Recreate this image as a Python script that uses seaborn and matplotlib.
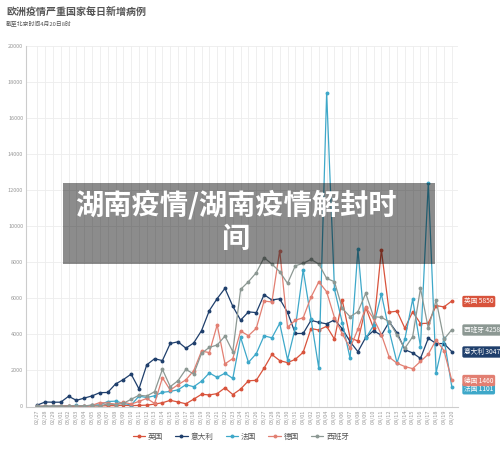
import matplotlib
matplotlib.use("Agg")
import matplotlib.pyplot as plt
import seaborn as sns
import pandas as pd
from matplotlib.patches import Rectangle
from matplotlib.lines import Line2D

sns.set_style("white")
plt.rcParams['font.family'] = ['Noto Sans CJK SC', 'DejaVu Sans']

dates = ["02/27", "02/28", "02/29",
         "03/01", "03/02", "03/03", "03/04", "03/05", "03/06", "03/07", "03/08", "03/09", "03/10",
         "03/11", "03/12", "03/13", "03/14", "03/15", "03/16", "03/17", "03/18", "03/19", "03/20",
         "03/21", "03/22", "03/23", "03/24", "03/25", "03/26", "03/27", "03/28", "03/29", "03/30", "03/31",
         "04/01", "04/02", "04/03", "04/04", "04/05", "04/06", "04/07", "04/08", "04/09", "04/10",
         "04/11", "04/12", "04/13", "04/14", "04/15", "04/16", "04/17", "04/18", "04/19", "04/20"]

uk = [0, 2, 5, 3, 13, 4, 11, 34, 29, 46, 46, 67, 48, 61, 74, 134, 208, 342, 251, 152,
      407, 676, 643, 714, 1035, 665, 967, 1427, 1452, 2129, 2885, 2546, 2433, 2619, 3009,
      4324, 4244, 4450, 3735, 5903, 3802, 3634, 5491, 4344, 8681, 5233, 5288, 4342, 5252,
      4603, 4617, 5599, 5525, 5850]
italy = [78, 250, 238, 240, 566, 342, 466, 587, 769, 778, 1247, 1492, 1797, 977, 2313, 2651,
         2547, 3497, 3590, 3233, 3526, 4207, 5322, 5986, 6557, 5560, 4789, 5249, 5210, 6203,
         5909, 5974, 5217, 4050, 4053, 4782, 4668, 4585, 4805, 4316, 3599, 3039, 3836, 4204,
         3951, 4694, 4092, 3153, 2972, 2667, 3786, 3493, 3491, 3047]
france = [4, 20, 19, 43, 30, 61, 13, 81, 92, 276, 296, 177, 83, 575, 497, 595, 785, 838, 924,
          1210, 1097, 1404, 1861, 1617, 1847, 1559, 3838, 2446, 2931, 3922, 3809, 4611, 2599,
          4376, 7578, 4861, 2116, 17400, 6500, 4650, 2673, 8718, 3782, 4500, 6240, 4204, 2429,
          3727, 5945, 3318, 12413, 1875, 3782, 1101]
germany = [10, 19, 2, 31, 51, 29, 37, 66, 220, 188, 129, 241, 136, 281, 451, 170, 1597, 910,
           1210, 1477, 1985, 3070, 2993, 4528, 2365, 2660, 4183, 3930, 4337, 5850, 5800, 8650,
           4400, 4790, 4923, 6064, 6922, 6365, 4933, 4031, 3251, 4289, 5500, 4885, 3990, 2737,
           2400, 2218, 2100, 2500, 2900, 3699, 3100, 1460]
spain = [2, 2, 17, 13, 39, 36, 45, 57, 37, 141, 100, 173, 400, 622, 582, 822, 2063, 1100, 1433,
         2063, 1800, 2949, 3282, 3411, 3910, 3041, 6499, 6924, 7423, 8255, 7903, 7478, 6831,
         7811, 7940, 8162, 7903, 7108, 6922, 5444, 4981, 5259, 6277, 4981, 4946, 4706, 3965,
         3226, 3873, 6555, 4335, 5906, 3727, 4258]

countries = ["英国", "意大利", "法国", "德国", "西班牙"]
series = [uk, italy, france, germany, spain]
colors = ["#d8533c", "#1f3f6c", "#3ea8c9", "#e27f72", "#8c9893"]
yticks = [0, 2000, 4000, 6000, 8000, 10000, 12000, 14000, 16000, 18000, 20000]

W, H = 500, 449
fig = plt.figure(figsize=(W / 100, H / 100), dpi=100)
L, R, T, B = 26, 458, 46, 406.5
ax = fig.add_axes([L / W, 1 - B / H, (R - L) / W, (B - T) / H])

x = list(range(len(dates)))
for name, vals, c in zip(countries, series, colors):
    df = pd.DataFrame({"x": x, "y": vals})
    sns.lineplot(data=df, x="x", y="y", ax=ax, color=c, linewidth=0.9, marker="o",
                 markersize=2.8, markeredgewidth=0, sort=False, legend=False)

ax.set_xlim((L - 37.3) / 7.82, (R - 37.3) / 7.82)
ax.set_ylim(0, 20000)
ax.set_xticks(x)
ax.set_xticklabels(dates, rotation=90, fontsize=4, color="#999999")
ax.set_yticks(yticks)
ax.set_yticklabels([str(v) for v in yticks], fontsize=4, color="#999999")
ax.tick_params(axis="both", length=0, pad=2)
ax.set_xlabel("")
ax.set_ylabel("")
ax.grid(True, color="#ededed", linewidth=0.6)
ax.set_axisbelow(True)
for s in ["top", "right"]:
    ax.spines[s].set_visible(False)
ax.spines["left"].set_color("#cccccc")
ax.spines["bottom"].set_color("#cccccc")
ax.spines["left"].set_linewidth(0.8)
ax.spines["bottom"].set_linewidth(0.8)

# end labels
label_y = {"英国": 301.5, "西班牙": 330, "意大利": 352, "德国": 380.5, "法国": 388.8}
for name, vals, c in zip(countries, series, colors):
    yp = label_y[name]
    fig.text(464 / W, 1 - yp / H, f"{name} {vals[-1]}", fontsize=4.8, color="white",
             ha="left", va="center",
             bbox=dict(boxstyle="round,pad=0.25", facecolor=c, edgecolor="none"))

# titles
fig.text(6 / W, 1 - 12 / H, "欧洲疫情严重国家每日新增病例", fontsize=7.2, fontweight="bold",
         color="#555555", ha="left", va="center")
fig.text(6 / W, 1 - 24.5 / H, "截至北京时间4月20日8时", fontsize=4.2, color="#555555",
         ha="left", va="center")

# legend
handles = [Line2D([0], [0], color=c, linewidth=0.9, marker="o", markersize=2.8,
                  markeredgewidth=0) for c in colors]
fig.legend(handles, countries, loc="center", bbox_to_anchor=(241 / W, 1 - 437 / H),
           ncol=5, frameon=False, fontsize=5.5, handlelength=1.6, handletextpad=0.4,
           columnspacing=1.6, labelcolor="#555555")

# overlay banner
fig.patches.append(Rectangle((63 / W, 1 - 264 / H), (435 - 63) / W, (264 - 183) / H,
                             transform=fig.transFigure, facecolor="black", alpha=0.45,
                             edgecolor="none", zorder=10))
fig.text(236 / W, 1 - 205 / H, "湖南疫情/湖南疫情解封时", fontsize=20.3, fontweight="bold",
         color="white", ha="center", va="center", zorder=11)
fig.text(236 / W, 1 - 238.5 / H, "间", fontsize=20.3, fontweight="bold",
         color="white", ha="center", va="center", zorder=11)

fig.savefig("out.png", dpi=100)
